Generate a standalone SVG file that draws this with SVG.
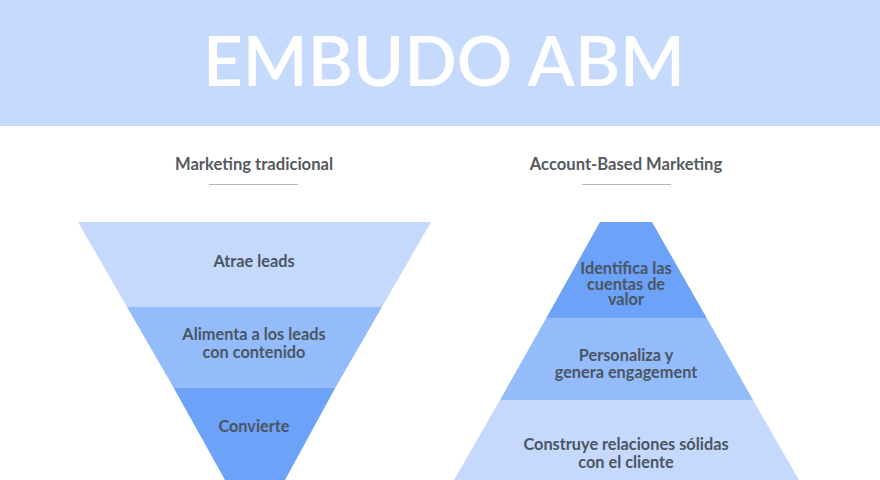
<svg xmlns="http://www.w3.org/2000/svg" width="880" height="480" viewBox="0 0 880 480">
<style>
.sub{font-family:Lato,"Liberation Sans",sans-serif;font-weight:700;font-size:16.6px;fill:#555a60;text-anchor:middle}
.lbl{font-family:Lato,"Liberation Sans",sans-serif;font-weight:700;font-size:16.3px;fill:#4a5562;text-anchor:middle}
.light{fill:#c5d9fd}
.mid{fill:#94bcfb}
.dark{fill:#6ca2f7}
.rule{stroke:#b5b5b5;stroke-width:1.2}
</style>
<rect width="880" height="480" fill="#ffffff"/>
<g id="header">
<rect x="0" y="0" width="880" height="126" fill="#c6dafd"/>
<text x="444" y="86" font-family="Lato,'Liberation Sans',sans-serif" font-weight="600" font-size="70" fill="#ffffff" text-anchor="middle" textLength="482" lengthAdjust="spacingAndGlyphs">EMBUDO ABM</text>
</g>
<g id="title-traditional">
<text class="sub" x="254" y="170">Marketing tradicional</text>
<line class="rule" x1="209" y1="184.5" x2="298" y2="184.5"/>
</g>
<g id="title-abm">
<text class="sub" x="626" y="170">Account-Based Marketing</text>
<line class="rule" x1="582" y1="184.5" x2="671" y2="184.5"/>
</g>
<g id="funnel-atrae">
<polygon class="light" points="78,222 431,222 382,307 127,307"/>
<text class="lbl" x="254" y="267">Atrae leads</text>
</g>
<g id="funnel-alimenta">
<polygon class="mid" points="127,307 382,307 335.2,388 173.8,388"/>
<text class="lbl" x="254" y="340">Alimenta a los leads</text>
<text class="lbl" x="254" y="358">con contenido</text>
</g>
<g id="funnel-convierte">
<polygon class="dark" points="173.8,388 335.2,388 285,480 225,480"/>
<text class="lbl" x="254" y="432">Convierte</text>
</g>
<g id="pyr-identifica">
<polygon class="dark" points="600,222 652,222 706.7,318 546.3,318"/>
<text class="lbl" x="626" y="274">Identifica las</text>
<text class="lbl" x="626" y="289.5">cuentas de</text>
<text class="lbl" x="626" y="305">valor</text>
</g>
<g id="pyr-personaliza">
<polygon class="mid" points="546.3,318 706.7,318 753,400 500,400"/>
<text class="lbl" x="626" y="361">Personaliza y</text>
<text class="lbl" x="626" y="378">genera engagement</text>
</g>
<g id="pyr-construye">
<polygon class="light" points="500,400 753,400 799,480 454,480"/>
<text class="lbl" x="626" y="450">Construye relaciones sólidas</text>
<text class="lbl" x="626" y="468">con el cliente</text>
</g>
<g id="connectors"></g>
</svg>
